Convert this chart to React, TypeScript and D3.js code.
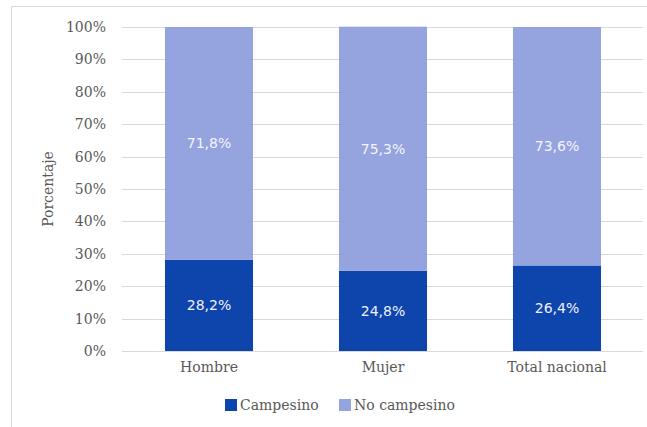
import React from "react";
import * as d3 from "d3";

const categories = ["Hombre", "Mujer", "Total nacional"];
const campesino = [28.2, 24.8, 26.4];
const noCampesino = [71.8, 75.3, 73.6];
const seriesNames = ["Campesino", "No campesino"];
const yTicks = [0, 10, 20, 30, 40, 50, 60, 70, 80, 90, 100];

const W = 647;
const H = 427;
const colors = ["#0E45AD", "#95A3DE"];
const fmt = (v: number) => v.toFixed(1).replace(".", ",") + "%";

export default function App() {
  const x = d3.scaleBand<string>().domain(categories).range([122, 644]).paddingInner(0.494).paddingOuter(0.247);
  const y = d3.scaleLinear().domain([0, 100]).range([351, 27]);
  const rows = categories.map((c, i) => ({ cat: c, Campesino: campesino[i], "No campesino": noCampesino[i] }));
  const stacked = d3.stack<any>().keys(seriesNames)(rows);
  const textCol = "#595959";
  const serif = "'DejaVu Serif', serif";
  const sans = "'DejaVu Sans', sans-serif";

  return (
    <svg width={W} height={H} style={{ position: "absolute", left: 0, top: 0, background: "#fff" }}>
      <rect x={11.5} y={6.5} width={660} height={440} fill="#fff" stroke="#d9d9d9" strokeWidth={1} />
      {yTicks.map((t) => (
        <g key={t}>
          <line x1={122} x2={643} y1={Math.round(y(t)) + 0.5} y2={Math.round(y(t)) + 0.5} stroke="#d9d9d9" strokeWidth={1.2} />
          <text x={106} y={y(t)} dy="0.35em" textAnchor="end" fontFamily={serif} fontSize={14} fill={textCol}>
            {t}%
          </text>
        </g>
      ))}
      {stacked.map((s, si) =>
        s.map((d: any, i: number) => (
          <rect key={si + "-" + i} x={x(categories[i])} width={x.bandwidth()} y={y(d[1])} height={y(d[0]) - y(d[1])} fill={colors[si]} />
        ))
      )}
      {stacked.map((s, si) =>
        s.map((d: any, i: number) => (
          <text
            key={"l" + si + "-" + i}
            x={(x(categories[i]) as number) + x.bandwidth() / 2}
            y={(y(d[0]) + y(d[1])) / 2}
            dy="0.35em"
            textAnchor="middle"
            fontFamily={sans}
            fontSize={14}
            fill={si === 0 ? "#eef0fa" : "#f3f4fb"}
          >
            {fmt(d[1] - d[0])}
          </text>
        ))
      )}
      {categories.map((c) => (
        <text key={c} x={(x(c) as number) + x.bandwidth() / 2} y={367} dy="0.35em" textAnchor="middle" fontFamily={serif} fontSize={14} fill={textCol}>
          {c}
        </text>
      ))}
      <text transform={`translate(48,189) rotate(-90)`} dy="0.35em" textAnchor="middle" fontFamily={serif} fontSize={14} fill={textCol}>
        Porcentaje
      </text>
      <g>
        <rect x={225} y={399} width={12} height={12} fill={colors[0]} />
        <text x={240} y={405} dy="0.35em" fontFamily={serif} fontSize={14} fill={textCol}>
          {seriesNames[0]}
        </text>
        <rect x={339} y={399} width={12} height={12} fill={colors[1]} />
        <text x={354} y={405} dy="0.35em" fontFamily={serif} fontSize={14} fill={textCol}>
          {seriesNames[1]}
        </text>
      </g>
    </svg>
  );
}
